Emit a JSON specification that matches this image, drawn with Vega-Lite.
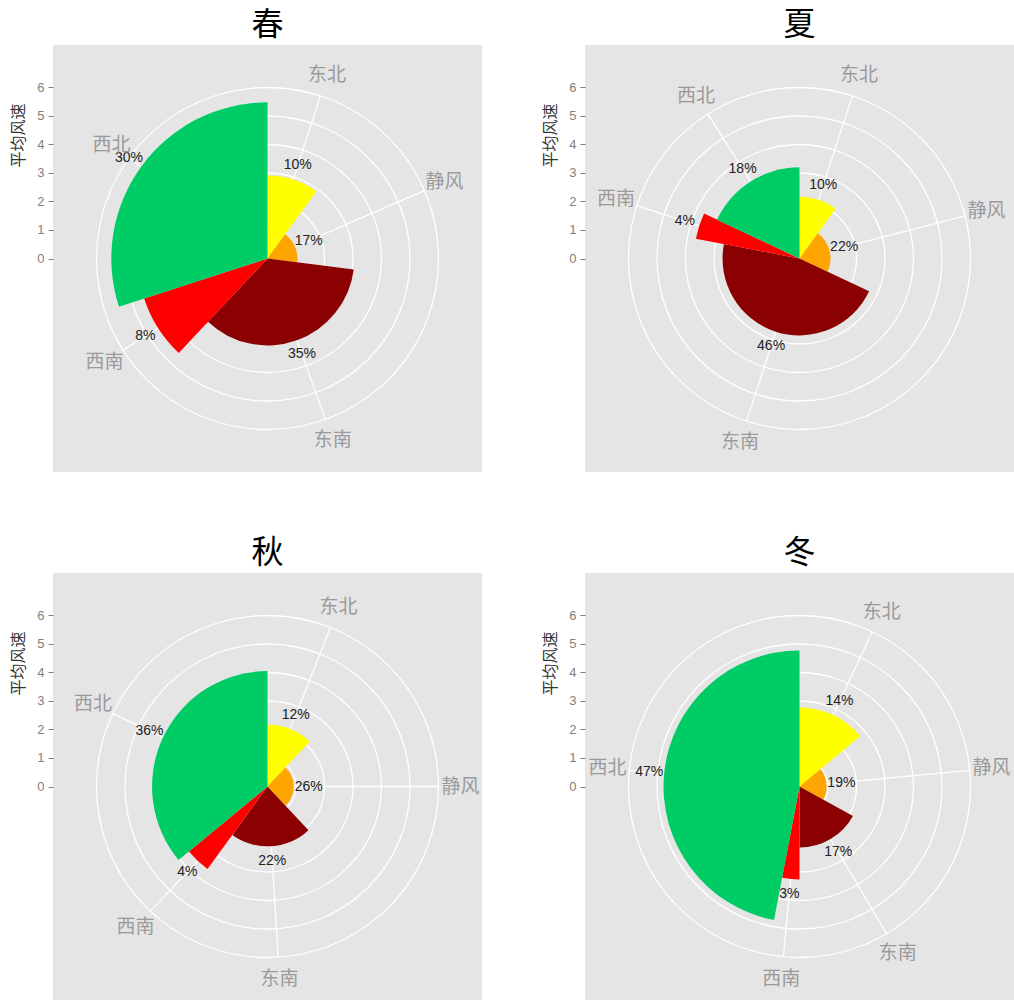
{
  "$schema": "https://vega.github.io/schema/vega-lite/v6.json",
  "background": "white",
  "padding": {"left": 10, "top": 9, "right": 0, "bottom": 0},
  "columns": 2,
  "spacing": {"row": 65, "column": 60},
  "datasets": {
    "wind": [
      {"season": "春", "dir": "东北", "ord": 1, "pct": 10, "speed": 2.91},
      {"season": "春", "dir": "静风", "ord": 2, "pct": 17, "speed": 1.05},
      {"season": "春", "dir": "东南", "ord": 3, "pct": 35, "speed": 3.05},
      {"season": "春", "dir": "西南", "ord": 4, "pct": 8, "speed": 4.55},
      {"season": "春", "dir": "西北", "ord": 5, "pct": 30, "speed": 5.48},
      {"season": "夏", "dir": "东北", "ord": 1, "pct": 10, "speed": 2.17},
      {"season": "夏", "dir": "静风", "ord": 2, "pct": 22, "speed": 1.09},
      {"season": "夏", "dir": "东南", "ord": 3, "pct": 46, "speed": 2.7},
      {"season": "夏", "dir": "西南", "ord": 4, "pct": 4, "speed": 3.7},
      {"season": "夏", "dir": "西北", "ord": 5, "pct": 18, "speed": 3.2},
      {"season": "秋", "dir": "东北", "ord": 1, "pct": 12, "speed": 2.17},
      {"season": "秋", "dir": "静风", "ord": 2, "pct": 26, "speed": 0.92},
      {"season": "秋", "dir": "东南", "ord": 3, "pct": 22, "speed": 2.1},
      {"season": "秋", "dir": "西南", "ord": 4, "pct": 4, "speed": 3.58},
      {"season": "秋", "dir": "西北", "ord": 5, "pct": 36, "speed": 4.05},
      {"season": "冬", "dir": "东北", "ord": 1, "pct": 14, "speed": 2.77},
      {"season": "冬", "dir": "静风", "ord": 2, "pct": 19, "speed": 0.95},
      {"season": "冬", "dir": "东南", "ord": 3, "pct": 17, "speed": 2.14},
      {"season": "冬", "dir": "西南", "ord": 4, "pct": 3, "speed": 3.26},
      {"season": "冬", "dir": "西北", "ord": 5, "pct": 47, "speed": 4.77}
    ],
    "rings": [{"r": 1}, {"r": 2}, {"r": 3}, {"r": 4}, {"r": 5}, {"r": 6}]
  },
  "data": {"name": "wind"},
  "transform": [
    {"window": [{"op": "sum", "field": "pct", "as": "cum"}], "groupby": ["season"], "sort": [{"field": "ord"}], "frame": [null, 0]},
    {"calculate": "datum.cum - datum.pct", "as": "start"},
    {"calculate": "datum.cum - datum.pct / 2", "as": "mid"},
    {"calculate": "datum.pct + '%'", "as": "lab"}
  ],
  "config": {
    "view": {"stroke": null, "fill": "#E5E5E5"},
    "title": {"fontSize": 32, "font": "Noto Sans CJK SC", "fontWeight": "normal", "color": "#000000", "offset": 3, "frame": "group", "anchor": "middle"},
    "axisY": {
      "grid": false, "domain": false,
      "tickColor": "#7F7F7F", "tickSize": 5, "labelColor": "#7F7F7F", "labelFont": "Liberation Sans", "labelFontSize": 13, "labelPadding": 4,
      "titleFont": "Noto Sans CJK SC", "titleFontSize": 16, "titleFontWeight": "normal", "titleColor": "#333333", "titlePadding": 10
    }
  },
  "concat": [
    {
      "title": {"text": "春"},
      "width": 429, "height": 427,
      "layer": [
        {"data": {"name": "rings"}, "mark": {"type": "arc", "filled": false, "stroke": "white", "strokeWidth": 1.3},
         "encoding": {"theta": {"datum": 0, "type": "quantitative", "scale": {"domain": [0, 100], "range": [0, 6.283185307179586]}}, "theta2": {"datum": 100},
                      "radius": {"field": "r", "type": "quantitative", "stack": null, "scale": {"type": "linear", "domain": [0, 6], "range": [0, 171], "zero": true, "nice": false}}}},
        {"transform": [{"filter": "datum.season === '春'"}], "mark": {"type": "arc", "filled": false, "stroke": "white", "strokeWidth": 1.3},
         "encoding": {"theta": {"field": "mid", "type": "quantitative", "stack": null}, "theta2": {"field": "mid"}, "radius": {"datum": 6, "type": "quantitative"}}},
        {"transform": [{"filter": "datum.season === '春'"}], "mark": {"type": "arc"},
         "encoding": {"theta": {"field": "start", "type": "quantitative", "stack": null}, "theta2": {"field": "cum"}, "radius": {"field": "speed", "type": "quantitative", "stack": null},
                      "color": {"field": "dir", "type": "nominal", "scale": {"domain": ["东北", "静风", "东南", "西南", "西北"], "range": ["#FFFF00", "#FFA500", "#8B0000", "#FF0000", "#00CC66"]}, "legend": null}}},
        {"transform": [{"filter": "datum.season === '春'"}], "mark": {"type": "text", "radiusOffset": 15, "fontSize": 14, "font": "Liberation Sans", "color": "#222222"},
         "encoding": {"theta": {"field": "mid", "type": "quantitative", "stack": null}, "radius": {"field": "speed", "type": "quantitative", "stack": null}, "text": {"field": "lab"}}},
        {"transform": [{"filter": "datum.season === '春'"}], "mark": {"type": "text", "fontSize": 19, "font": "Noto Sans CJK SC", "color": "#9A9A9A"},
         "encoding": {"theta": {"field": "mid", "type": "quantitative", "stack": null}, "radius": {"datum": 6.77, "type": "quantitative"}, "text": {"field": "dir"}}},
        {"data": {"name": "rings"}, "mark": {"type": "point", "opacity": 0},
         "encoding": {"y": {"field": "r", "type": "quantitative", "scale": {"domain": [-7.49, 7.49], "nice": false, "zero": false}, "axis": {"values": [0, 1, 2, 3, 4, 5, 6], "title": "平均风速", "titleY": 90}}}}
      ]
    },
    {
      "title": {"text": "夏"},
      "width": 429, "height": 427,
      "layer": [
        {"data": {"name": "rings"}, "mark": {"type": "arc", "filled": false, "stroke": "white", "strokeWidth": 1.3},
         "encoding": {"theta": {"datum": 0, "type": "quantitative", "scale": {"domain": [0, 100], "range": [0, 6.283185307179586]}}, "theta2": {"datum": 100},
                      "radius": {"field": "r", "type": "quantitative", "stack": null, "scale": {"type": "linear", "domain": [0, 6], "range": [0, 171], "zero": true, "nice": false}}}},
        {"transform": [{"filter": "datum.season === '夏'"}], "mark": {"type": "arc", "filled": false, "stroke": "white", "strokeWidth": 1.3},
         "encoding": {"theta": {"field": "mid", "type": "quantitative", "stack": null}, "theta2": {"field": "mid"}, "radius": {"datum": 6, "type": "quantitative"}}},
        {"transform": [{"filter": "datum.season === '夏'"}], "mark": {"type": "arc"},
         "encoding": {"theta": {"field": "start", "type": "quantitative", "stack": null}, "theta2": {"field": "cum"}, "radius": {"field": "speed", "type": "quantitative", "stack": null},
                      "color": {"field": "dir", "type": "nominal", "scale": {"domain": ["东北", "静风", "东南", "西南", "西北"], "range": ["#FFFF00", "#FFA500", "#8B0000", "#FF0000", "#00CC66"]}, "legend": null}}},
        {"transform": [{"filter": "datum.season === '夏'"}], "mark": {"type": "text", "radiusOffset": 15, "fontSize": 14, "font": "Liberation Sans", "color": "#222222"},
         "encoding": {"theta": {"field": "mid", "type": "quantitative", "stack": null}, "radius": {"field": "speed", "type": "quantitative", "stack": null}, "text": {"field": "lab"}}},
        {"transform": [{"filter": "datum.season === '夏'"}], "mark": {"type": "text", "fontSize": 19, "font": "Noto Sans CJK SC", "color": "#9A9A9A"},
         "encoding": {"theta": {"field": "mid", "type": "quantitative", "stack": null}, "radius": {"datum": 6.77, "type": "quantitative"}, "text": {"field": "dir"}}},
        {"data": {"name": "rings"}, "mark": {"type": "point", "opacity": 0},
         "encoding": {"y": {"field": "r", "type": "quantitative", "scale": {"domain": [-7.49, 7.49], "nice": false, "zero": false}, "axis": {"values": [0, 1, 2, 3, 4, 5, 6], "title": "平均风速", "titleY": 90}}}}
      ]
    },
    {
      "title": {"text": "秋"},
      "width": 429, "height": 427,
      "layer": [
        {"data": {"name": "rings"}, "mark": {"type": "arc", "filled": false, "stroke": "white", "strokeWidth": 1.3},
         "encoding": {"theta": {"datum": 0, "type": "quantitative", "scale": {"domain": [0, 100], "range": [0, 6.283185307179586]}}, "theta2": {"datum": 100},
                      "radius": {"field": "r", "type": "quantitative", "stack": null, "scale": {"type": "linear", "domain": [0, 6], "range": [0, 171], "zero": true, "nice": false}}}},
        {"transform": [{"filter": "datum.season === '秋'"}], "mark": {"type": "arc", "filled": false, "stroke": "white", "strokeWidth": 1.3},
         "encoding": {"theta": {"field": "mid", "type": "quantitative", "stack": null}, "theta2": {"field": "mid"}, "radius": {"datum": 6, "type": "quantitative"}}},
        {"transform": [{"filter": "datum.season === '秋'"}], "mark": {"type": "arc"},
         "encoding": {"theta": {"field": "start", "type": "quantitative", "stack": null}, "theta2": {"field": "cum"}, "radius": {"field": "speed", "type": "quantitative", "stack": null},
                      "color": {"field": "dir", "type": "nominal", "scale": {"domain": ["东北", "静风", "东南", "西南", "西北"], "range": ["#FFFF00", "#FFA500", "#8B0000", "#FF0000", "#00CC66"]}, "legend": null}}},
        {"transform": [{"filter": "datum.season === '秋'"}], "mark": {"type": "text", "radiusOffset": 15, "fontSize": 14, "font": "Liberation Sans", "color": "#222222"},
         "encoding": {"theta": {"field": "mid", "type": "quantitative", "stack": null}, "radius": {"field": "speed", "type": "quantitative", "stack": null}, "text": {"field": "lab"}}},
        {"transform": [{"filter": "datum.season === '秋'"}], "mark": {"type": "text", "fontSize": 19, "font": "Noto Sans CJK SC", "color": "#9A9A9A"},
         "encoding": {"theta": {"field": "mid", "type": "quantitative", "stack": null}, "radius": {"datum": 6.77, "type": "quantitative"}, "text": {"field": "dir"}}},
        {"data": {"name": "rings"}, "mark": {"type": "point", "opacity": 0},
         "encoding": {"y": {"field": "r", "type": "quantitative", "scale": {"domain": [-7.49, 7.49], "nice": false, "zero": false}, "axis": {"values": [0, 1, 2, 3, 4, 5, 6], "title": "平均风速", "titleY": 90}}}}
      ]
    },
    {
      "title": {"text": "冬"},
      "width": 429, "height": 427,
      "layer": [
        {"data": {"name": "rings"}, "mark": {"type": "arc", "filled": false, "stroke": "white", "strokeWidth": 1.3},
         "encoding": {"theta": {"datum": 0, "type": "quantitative", "scale": {"domain": [0, 100], "range": [0, 6.283185307179586]}}, "theta2": {"datum": 100},
                      "radius": {"field": "r", "type": "quantitative", "stack": null, "scale": {"type": "linear", "domain": [0, 6], "range": [0, 171], "zero": true, "nice": false}}}},
        {"transform": [{"filter": "datum.season === '冬'"}], "mark": {"type": "arc", "filled": false, "stroke": "white", "strokeWidth": 1.3},
         "encoding": {"theta": {"field": "mid", "type": "quantitative", "stack": null}, "theta2": {"field": "mid"}, "radius": {"datum": 6, "type": "quantitative"}}},
        {"transform": [{"filter": "datum.season === '冬'"}], "mark": {"type": "arc"},
         "encoding": {"theta": {"field": "start", "type": "quantitative", "stack": null}, "theta2": {"field": "cum"}, "radius": {"field": "speed", "type": "quantitative", "stack": null},
                      "color": {"field": "dir", "type": "nominal", "scale": {"domain": ["东北", "静风", "东南", "西南", "西北"], "range": ["#FFFF00", "#FFA500", "#8B0000", "#FF0000", "#00CC66"]}, "legend": null}}},
        {"transform": [{"filter": "datum.season === '冬'"}], "mark": {"type": "text", "radiusOffset": 15, "fontSize": 14, "font": "Liberation Sans", "color": "#222222"},
         "encoding": {"theta": {"field": "mid", "type": "quantitative", "stack": null}, "radius": {"field": "speed", "type": "quantitative", "stack": null}, "text": {"field": "lab"}}},
        {"transform": [{"filter": "datum.season === '冬'"}], "mark": {"type": "text", "fontSize": 19, "font": "Noto Sans CJK SC", "color": "#9A9A9A"},
         "encoding": {"theta": {"field": "mid", "type": "quantitative", "stack": null}, "radius": {"datum": 6.77, "type": "quantitative"}, "text": {"field": "dir"}}},
        {"data": {"name": "rings"}, "mark": {"type": "point", "opacity": 0},
         "encoding": {"y": {"field": "r", "type": "quantitative", "scale": {"domain": [-7.49, 7.49], "nice": false, "zero": false}, "axis": {"values": [0, 1, 2, 3, 4, 5, 6], "title": "平均风速", "titleY": 90}}}}
      ]
    }
  ]
}
